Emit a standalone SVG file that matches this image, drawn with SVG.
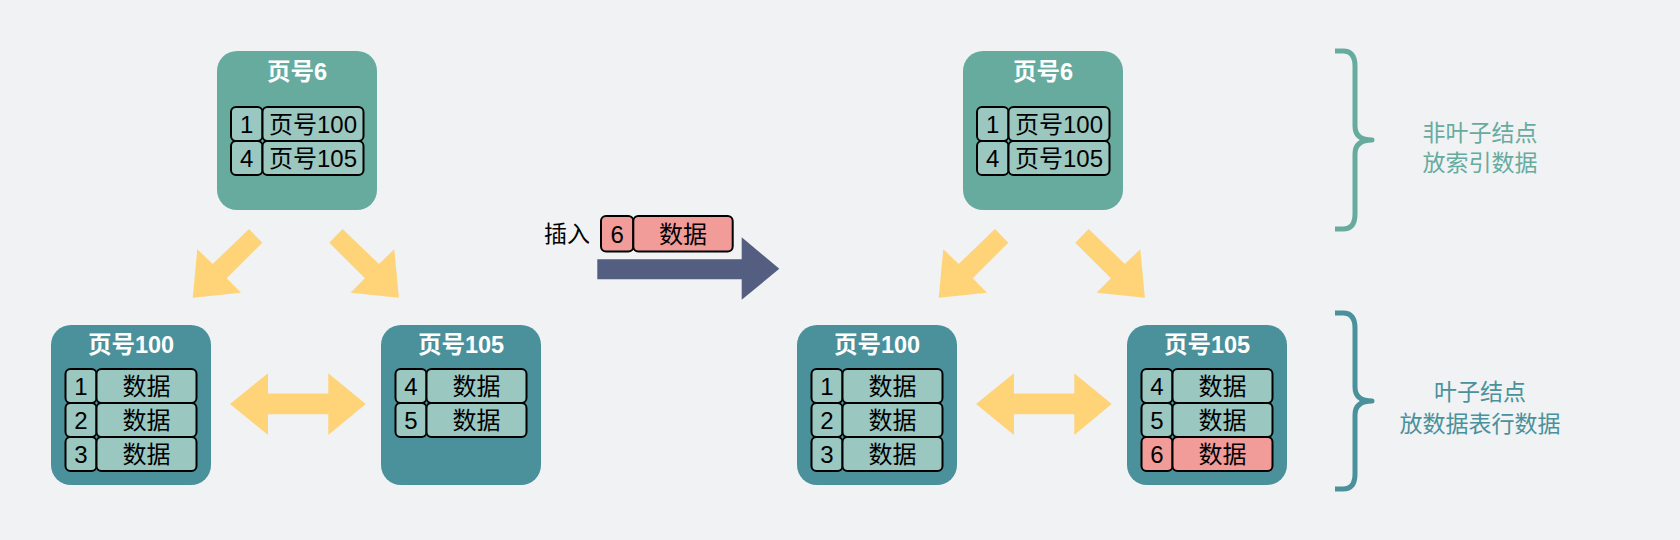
<svg xmlns="http://www.w3.org/2000/svg" width="1680" height="540" viewBox="0 0 1680 540">
<defs>
<style>
.bg{fill:#F0F2F4}
.inner{fill:#67AB9F}
.leaf{fill:#4A919B}
.cell{fill:#9AC7BF;stroke:#000;stroke-width:2}
.new{fill:#F19C99;stroke:#000;stroke-width:2}
.title{font-family:"Liberation Sans","Noto Sans CJK SC",sans-serif;font-size:23.5px;font-weight:bold;fill:#FFFFFF;text-anchor:middle}
.t{font-family:"Liberation Sans","Noto Sans CJK SC",sans-serif;font-size:24px;fill:#000;text-anchor:middle}
.yarrow{fill:#FFD378}
.darrow{fill:#535E80}
.brace{fill:none;stroke-width:5;stroke-linecap:butt;stroke-linejoin:round}
.lbl{font-family:"Liberation Sans","Noto Sans CJK SC",sans-serif;font-size:23px;text-anchor:middle}
</style>
<polygon id="ldown" points="249,229 262.3,242.7 226.7,278.3 241,292.7 192.7,297.7 197.3,249.3 212.7,264"/>
<polygon id="rdown" points="342.6,229 329.3,242.7 364.9,278.3 350.6,292.7 398.9,297.7 394.3,249.3 378.9,264"/>
<polygon id="dbl" points="230,404 268,373.3 268,393.5 328.3,393.5 328.3,373.3 365.7,404 328.3,435 328.3,414.3 268,414.3 268,435"/>
</defs>
<rect class="bg" x="0" y="0" width="1680" height="540"/>

<g id="connectors">
<use href="#ldown" class="yarrow"/>
<use href="#rdown" class="yarrow"/>
<use href="#dbl" class="yarrow"/>
<use href="#ldown" class="yarrow" transform="translate(746,0)"/>
<use href="#rdown" class="yarrow" transform="translate(746,0)"/>
<use href="#dbl" class="yarrow" transform="translate(746,0)"/>
<polygon id="insert-arrow" class="darrow" points="597.3,259.3 741.7,259.3 741.7,237.3 779.3,268.8 741.7,299.8 741.7,279.3 597.3,279.3"/>
</g>

<g id="page6-left">
<rect class="inner" x="217" y="51" width="160" height="159" rx="20"/>
<text class="title" x="297" y="80">页号6</text>
<rect class="cell" x="231" y="107" width="31.5" height="34" rx="5"/>
<rect class="cell" x="262.5" y="107" width="101" height="34" rx="5"/>
<rect class="cell" x="231" y="141" width="31.5" height="34" rx="5"/>
<rect class="cell" x="262.5" y="141" width="101" height="34" rx="5"/>
<text class="t" x="246.7" y="132.5">1</text>
<text class="t" x="313" y="132.5">页号100</text>
<text class="t" x="246.7" y="166.5">4</text>
<text class="t" x="313" y="166.5">页号105</text>
</g>

<g id="page100-left">
<rect class="leaf" x="51" y="325" width="160" height="160" rx="20"/>
<text class="title" x="131" y="353">页号100</text>
<rect class="cell" x="65.5" y="369" width="31" height="34" rx="5"/>
<rect class="cell" x="96.5" y="369" width="100" height="34" rx="5"/>
<rect class="cell" x="65.5" y="403" width="31" height="34" rx="5"/>
<rect class="cell" x="96.5" y="403" width="100" height="34" rx="5"/>
<rect class="cell" x="65.5" y="437" width="31" height="34" rx="5"/>
<rect class="cell" x="96.5" y="437" width="100" height="34" rx="5"/>
<text class="t" x="81" y="394.5">1</text>
<text class="t" x="146.5" y="394.5">数据</text>
<text class="t" x="81" y="428.5">2</text>
<text class="t" x="146.5" y="428.5">数据</text>
<text class="t" x="81" y="462.5">3</text>
<text class="t" x="146.5" y="462.5">数据</text>
</g>

<g id="page105-left">
<rect class="leaf" x="381" y="325" width="160" height="160" rx="20"/>
<text class="title" x="461" y="353">页号105</text>
<rect class="cell" x="395.5" y="369" width="31" height="34" rx="5"/>
<rect class="cell" x="426.5" y="369" width="100" height="34" rx="5"/>
<rect class="cell" x="395.5" y="403" width="31" height="34" rx="5"/>
<rect class="cell" x="426.5" y="403" width="100" height="34" rx="5"/>
<text class="t" x="411" y="394.5">4</text>
<text class="t" x="476.5" y="394.5">数据</text>
<text class="t" x="411" y="428.5">5</text>
<text class="t" x="476.5" y="428.5">数据</text>
</g>

<g id="insert">
<text class="t" x="590" y="242" style="text-anchor:end;font-size:23px">插入</text>
<rect class="new" x="601" y="216" width="32.3" height="35.5" rx="5"/>
<rect class="new" x="633.3" y="216" width="99.4" height="35.5" rx="5"/>
<text class="t" x="617.2" y="242.5">6</text>
<text class="t" x="683" y="242.5">数据</text>
</g>

<g id="page6-right">
<rect class="inner" x="963" y="51" width="160" height="159" rx="20"/>
<text class="title" x="1043" y="80">页号6</text>
<rect class="cell" x="977" y="107" width="31.5" height="34" rx="5"/>
<rect class="cell" x="1008.5" y="107" width="101" height="34" rx="5"/>
<rect class="cell" x="977" y="141" width="31.5" height="34" rx="5"/>
<rect class="cell" x="1008.5" y="141" width="101" height="34" rx="5"/>
<text class="t" x="992.7" y="132.5">1</text>
<text class="t" x="1059" y="132.5">页号100</text>
<text class="t" x="992.7" y="166.5">4</text>
<text class="t" x="1059" y="166.5">页号105</text>
</g>

<g id="page100-right">
<rect class="leaf" x="797" y="325" width="160" height="160" rx="20"/>
<text class="title" x="877" y="353">页号100</text>
<rect class="cell" x="811.5" y="369" width="31" height="34" rx="5"/>
<rect class="cell" x="842.5" y="369" width="100" height="34" rx="5"/>
<rect class="cell" x="811.5" y="403" width="31" height="34" rx="5"/>
<rect class="cell" x="842.5" y="403" width="100" height="34" rx="5"/>
<rect class="cell" x="811.5" y="437" width="31" height="34" rx="5"/>
<rect class="cell" x="842.5" y="437" width="100" height="34" rx="5"/>
<text class="t" x="827" y="394.5">1</text>
<text class="t" x="892.5" y="394.5">数据</text>
<text class="t" x="827" y="428.5">2</text>
<text class="t" x="892.5" y="428.5">数据</text>
<text class="t" x="827" y="462.5">3</text>
<text class="t" x="892.5" y="462.5">数据</text>
</g>

<g id="page105-right">
<rect class="leaf" x="1127" y="325" width="160" height="160" rx="20"/>
<text class="title" x="1207" y="353">页号105</text>
<rect class="cell" x="1141.5" y="369" width="31" height="34" rx="5"/>
<rect class="cell" x="1172.5" y="369" width="100" height="34" rx="5"/>
<rect class="cell" x="1141.5" y="403" width="31" height="34" rx="5"/>
<rect class="cell" x="1172.5" y="403" width="100" height="34" rx="5"/>
<rect class="new" x="1141.5" y="437" width="31" height="34" rx="5"/>
<rect class="new" x="1172.5" y="437" width="100" height="34" rx="5"/>
<text class="t" x="1157" y="394.5">4</text>
<text class="t" x="1222.5" y="394.5">数据</text>
<text class="t" x="1157" y="428.5">5</text>
<text class="t" x="1222.5" y="428.5">数据</text>
<text class="t" x="1157" y="462.5">6</text>
<text class="t" x="1222.5" y="462.5">数据</text>
</g>

<g id="brace-nonleaf">
<path class="brace" stroke="#67AB9F" d="M1335,51 H1343 Q1355,51 1355,66 V126 Q1355,140 1372,140 Q1355,140 1355,154 V214 Q1355,229 1343,229 H1335"/>
<text class="lbl" fill="#67AB9F" x="1480" y="141">非叶子结点</text>
<text class="lbl" fill="#67AB9F" x="1480" y="171">放索引数据</text>
</g>

<g id="brace-leaf">
<path class="brace" stroke="#4A919B" d="M1335,313 H1343 Q1355,313 1355,328 V387 Q1355,401 1372,401 Q1355,401 1355,415 V474 Q1355,489 1343,489 H1335"/>
<text class="lbl" fill="#4A919B" x="1480" y="400">叶子结点</text>
<text class="lbl" fill="#4A919B" x="1480" y="432">放数据表行数据</text>
</g>
</svg>
